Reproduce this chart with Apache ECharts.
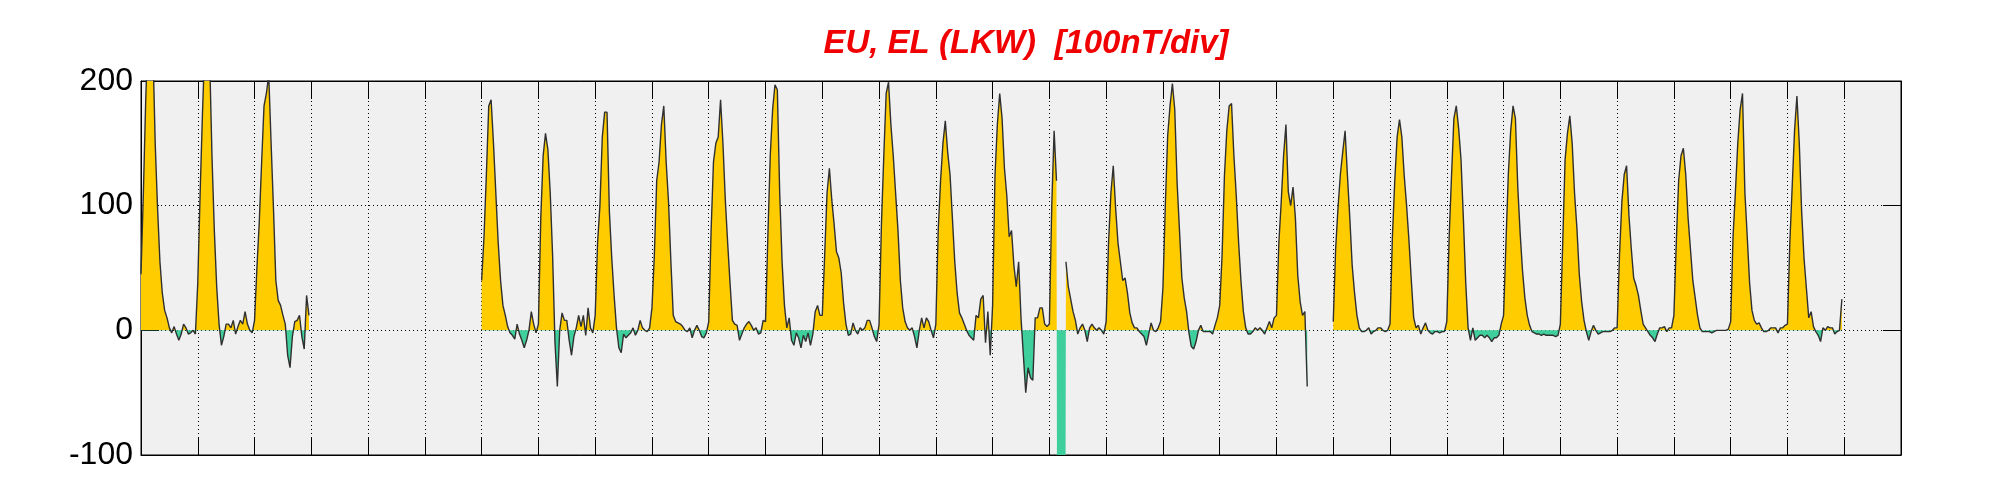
<!DOCTYPE html>
<html>
<head>
<meta charset="utf-8">
<script src="https://cdn.jsdelivr.net/npm/echarts@6/dist/echarts.min.js"></script>
<style>
html,body{margin:0;padding:0;background:#fff;}
#chart{width:2001px;height:500px;}
</style>
</head>
<body>
<div id="chart"></div>
<script>
// ---- text ----
const chartTitle = 'EU, EL (LKW)  [100nT/div]';
const yTickValues = [-100, 0, 100, 200];

// ---- hourly H values (nT), one array per day, null = no data ----
const day01 = [45,110,185,240,260,230,150,98,55,30,16,10,2,-2,3,-3,-8,-3,5,2,-3,-2,0,-3];
const day02 = [38,110,175,230,250,220,140,80,35,5,-12,-5,5,5,2,8,-3,3,8,5,15,5,0,-2];
const day03 = [8,50,87,135,180,190,205,150,98,40,24,20,12,5,-20,-30,-5,7,8,12,-5,-15,28,12];
const day04 = null;
const day05 = null;
const day06 = null;
const day07 = [40,75,125,180,185,150,110,70,40,20,12,3,-2,-4,-7,5,-3,-8,-14,-8,0,15,5,-2];
const day08 = [5,90,140,158,145,110,60,-10,-45,0,14,8,8,-8,-20,-5,2,12,3,12,-4,18,2,-2];
const day09 = [12,70,100,155,175,175,95,58,28,2,-14,-18,-3,-6,-4,-2,2,-4,0,8,2,0,-1,2];
const day10 = [18,60,120,135,165,180,135,103,55,12,7,6,5,3,0,-1,2,-6,0,4,0,-5,-6,-2];
const day11 = [7,80,135,150,155,185,150,105,70,38,8,5,4,-8,-3,2,5,7,4,0,2,-3,-2,8];
const day12 = [7,76,140,177,197,193,110,55,20,2,10,-8,-12,-2,-6,-14,-4,-9,-2,-12,-3,15,20,12];
const day13 = [12,60,110,130,105,85,63,58,46,22,5,-4,-3,6,0,-3,2,0,2,8,8,2,-5,-9];
const day14 = [5,85,140,190,199,165,140,110,80,40,18,7,2,0,2,-5,-14,0,10,2,10,7,0,-6];
const day15 = [5,80,120,150,168,143,125,90,55,30,14,10,5,0,-4,-6,-8,12,10,25,28,-10,15,-20];
const day16 = [20,124,165,190,170,130,108,75,80,52,35,55,10,-20,-50,-30,-38,-40,10,10,18,18,5,3];
const day17 = [5,100,160,120,null,null,null,55,35,25,15,8,-3,2,5,0,-9,2,5,2,0,2,0,-3];
const day18 = [7,70,110,132,98,70,55,40,42,30,14,6,2,2,-1,-3,-5,-12,-3,6,0,-1,2,7];
const day19 = [34,100,156,180,198,177,118,80,42,26,15,-2,-13,-15,-9,0,4,-1,-1,-1,-1,-3,4,10];
const day20 = [20,60,124,160,180,182,140,108,70,39,15,2,-3,-3,-1,2,0,2,0,-3,2,7,2,10];
const day21 = [12,70,103,140,165,111,100,115,90,44,23,12,15,-45,null,null,null,null,null,null,null,null,null,null];
const day22 = [7,65,98,125,143,160,124,90,52,30,12,2,-1,-1,0,2,-3,-1,0,2,2,0,-1,0];
const day23 = [5,75,120,155,169,155,124,100,72,40,10,2,4,-3,2,6,0,-2,-3,-1,-1,-2,-1,-1];
const day24 = [7,75,124,170,180,162,137,90,38,2,-8,2,-8,-6,-4,-4,-6,-4,-6,-9,-6,-6,-4,5];
const day25 = [12,70,125,160,180,170,115,78,48,26,12,4,-1,-2,-3,-3,-4,-3,-4,-4,-4,-4,-5,-4];
const day26 = [5,70,137,158,172,150,110,82,45,23,8,-1,-8,-1,4,0,-3,-2,-1,-1,-1,-1,0,2];
const day27 = [2,60,103,125,132,92,65,42,36,28,16,5,2,-1,-4,-6,-9,-3,2,2,3,-1,2,2];
const day28 = [12,70,120,140,146,125,90,65,40,26,12,2,-1,-1,-1,-1,-2,-1,0,0,0,0,0,1];
const day29 = [7,75,111,150,177,190,111,75,38,16,8,5,6,2,-1,-1,0,2,2,2,-2,2,2,4];
const day30 = [5,70,115,160,188,150,95,58,34,10,15,3,-1,-4,-9,2,0,3,2,2,-3,-1,0,25];
const day31 = null;

// hours flagged as bad data (shown as a full-depth EL block, no trace)
const flaggedHours = [388, 389, 390];
const flaggedValue = -999;

const days = [day01,day02,day03,day04,day05,day06,day07,day08,day09,day10,
              day11,day12,day13,day14,day15,day16,day17,day18,day19,day20,
              day21,day22,day23,day24,day25,day26,day27,day28,day29,day30,day31];
const HOURS_PER_DAY = 24;

const hourly = [];
days.forEach(d => {
  for (let h = 0; h < HOURS_PER_DAY; h++) hourly.push(d ? d[h] : null);
});

const lineData = hourly.map((v, i) => [i, v]);
const areaData = hourly.map((v, i) => [i, flaggedHours.includes(i) ? flaggedValue : v]);

const FONT = "'Liberation Sans', Arial, Helvetica, sans-serif";
const totalHours = days.length * HOURS_PER_DAY;

const chart = echarts.init(document.getElementById('chart'), null, {renderer: 'canvas'});
const tickStyle = {show: true, inside: true, length: 18, lineStyle: {color: '#000', width: 1}};
const dotted = {show: true, lineStyle: {color: '#000', width: 1, type: [1, 3]}};
const axisLineStyle = {show: true, onZero: false, lineStyle: {color: '#000', width: 1}};

chart.setOption({
  animation: false,
  backgroundColor: '#fff',
  title: {
    text: chartTitle,
    left: 1021,
    top: 22,
    textAlign: 'center',
    textStyle: {color: '#f00000', fontSize: 33, fontWeight: 'bold', fontStyle: 'italic', fontFamily: FONT}
  },
  grid: {left: 141, right: 100, top: 81, bottom: 45, show: true,
         backgroundColor: '#f0f0f0', borderColor: '#000', borderWidth: 1},
  visualMap: {
    type: 'piecewise', show: false, seriesIndex: 0, dimension: 1,
    pieces: [{gte: -100000, lt: 0, color: '#3ecf9c'}, {gte: 0, lte: 100000, color: '#ffcc00'}]
  },
  xAxis: [
    {type: 'value', min: 0, max: totalHours, interval: HOURS_PER_DAY,
     axisLine: axisLineStyle, axisTick: tickStyle,
     axisLabel: {show: false}, splitLine: dotted},
    {type: 'value', position: 'top', min: 0, max: totalHours, interval: HOURS_PER_DAY,
     axisLine: axisLineStyle, axisTick: tickStyle,
     axisLabel: {show: false}, splitLine: {show: false}}
  ],
  yAxis: [
    {type: 'value', min: yTickValues[0], max: yTickValues[yTickValues.length - 1], interval: 100,
     axisLine: axisLineStyle, axisTick: tickStyle,
     axisLabel: {show: true, color: '#000', fontSize: 32, fontFamily: FONT, margin: 8},
     splitLine: dotted},
    {type: 'value', position: 'right', min: yTickValues[0], max: yTickValues[yTickValues.length - 1], interval: 100,
     axisLine: axisLineStyle, axisTick: tickStyle,
     axisLabel: {show: false}, splitLine: {show: false}}
  ],
  series: [
    {name: 'EU/EL', type: 'line', data: areaData, showSymbol: false, silent: true,
     connectNulls: false, clip: true, z: 2,
     lineStyle: {width: 0},
     areaStyle: {opacity: 1, origin: 0}},
    {name: 'H', type: 'line', data: lineData, showSymbol: false, silent: true,
     connectNulls: false, clip: true, z: 3,
     lineStyle: {color: '#303030', width: 1.4}}
  ]
});
</script>
</body>
</html>
